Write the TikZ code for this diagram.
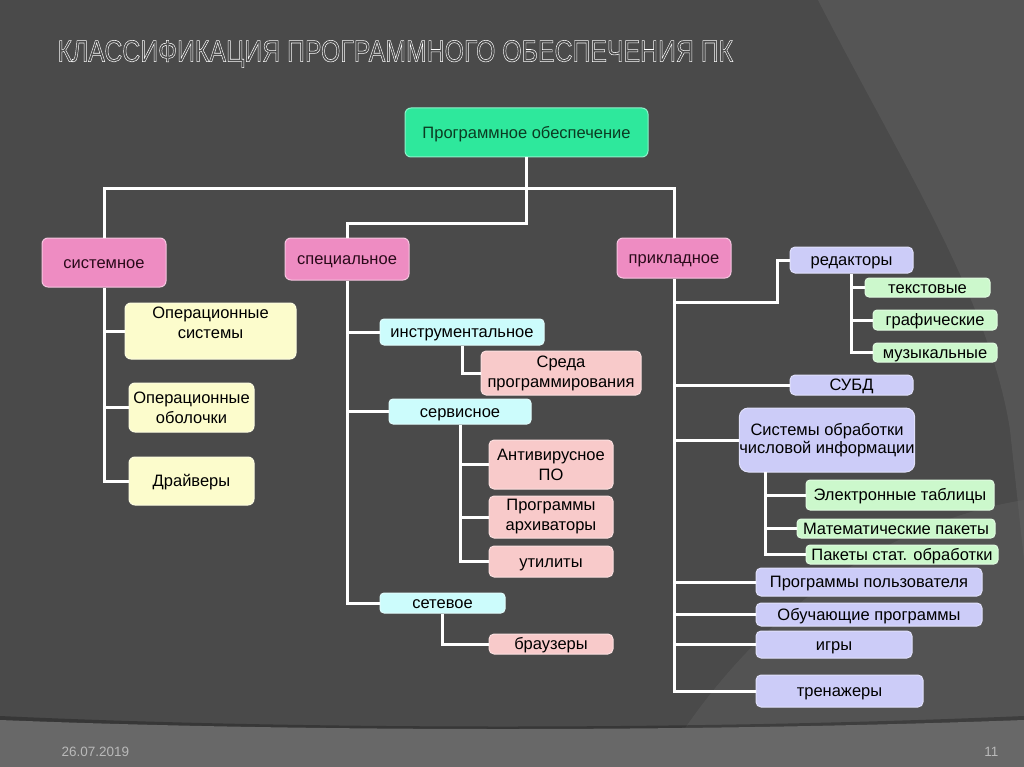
\documentclass[tikz,border=0pt]{standalone}
\usepackage{fontspec}
\setmainfont{Liberation Sans}
\begin{document}
\begin{tikzpicture}[x=1pt,y=-1pt,
  every node/.style={font=\fontsize{16.5}{20}\selectfont},
  box/.style={rounded corners=6pt, line width=1pt, inner sep=0pt, text=black},
  one/.style={text height=14.9pt, text depth=3.5pt},
  two/.style={align=center},
  rootbox/.style={box, fill=green1, draw=green1!55!white, text=rootText},
  lvlbox/.style={box, fill=pink1, draw=pink1!50!white, text=lvlText},
  yelbox/.style={box, fill=yel1, draw=yel1!60!white},
  cyanbox/.style={box, fill=cyan1, draw=cyan1!60!white, rounded corners=4pt},
  salbox/.style={box, fill=sal1, draw=sal1!60!white, rounded corners=5pt},
  lavbox/.style={box, fill=lav1, draw=lav1!60!white, rounded corners=5pt},
  grnbox/.style={box, fill=grn1, draw=grn1!60!white, rounded corners=4pt},
  conn/.style={draw=white, line width=3pt},
  footer/.style={text=gray!55!white, font=\fontsize{13.5}{16}\selectfont}
]
\definecolor{bg}{HTML}{4A4A4A}
\definecolor{bgR}{HTML}{555555}
\definecolor{bgB}{HTML}{686868}
\definecolor{green1}{HTML}{2EE89C}
\definecolor{rootText}{HTML}{0B3B22}
\definecolor{pink1}{HTML}{EE8CC2}
\definecolor{lvlText}{HTML}{2A0A1A}
\definecolor{yel1}{HTML}{FCFCCC}
\definecolor{cyan1}{HTML}{CCFCFC}
\definecolor{sal1}{HTML}{F8CACA}
\definecolor{lav1}{HTML}{CCCCF8}
\definecolor{grn1}{HTML}{CCF8CC}

% background
\useasboundingbox (0,0) rectangle (1024,767);
\fill[bg] (0,0) rectangle (1024,767);
\fill[bgR] (818,0) .. controls (900,160) and (990,300) .. (1010,430) -- (1024,560) -- (1024,0) -- cycle;
\fill[bgR!90!white, opacity=0.35] (660,767) .. controls (760,600) and (900,520) .. (1024,500) -- (1024,767) -- cycle;
\fill[black, opacity=0.25] (0,716) .. controls (300,730) and (700,730) .. (1024,716) -- (1024,726) .. controls (700,736) and (300,736) .. (0,726) -- cycle;
\fill[bgB] (0,720) .. controls (300,732) and (700,732) .. (1024,720) -- (1024,767) -- (0,767) -- cycle;

% title
\node[anchor=west, text=white, font=\fontsize{30.5}{34}\selectfont] (title) at (54,54)
  {\scalebox{0.815}[1]{\special{pdf:literal direct 1 1 1 RG 0.55 w 1 Tr}КЛАССИФИКАЦИЯ ПРОГРАММНОГО ОБЕСПЕЧЕНИЯ ПК\special{pdf:literal direct 0 Tr}}};

% nodes
\node[rootbox, one, minimum width=243, minimum height=49] (top) at (526.5,132.5) {Программное обеспечение};
\node[lvlbox, one, minimum width=124, minimum height=49] (sys) at (104,262.5) {системное};
\node[lvlbox, one, minimum width=124, minimum height=42] (spec) at (347,259) {специальное};
\node[lvlbox, one, minimum width=114, minimum height=40] (app) at (674,258) {прикладное};

\node[yelbox, minimum width=171, minimum height=56] (os) at (210.5,331)
  {\raisebox{7pt}[\height][\depth]{\begin{tabular}{@{}c@{}}Операционные\\системы\end{tabular}}};
\node[yelbox, two, minimum width=125, minimum height=49] (obol) at (191.5,407.5) {Операционные\\оболочки};
\node[yelbox, one, minimum width=125, minimum height=48] (drv) at (191.5,481) {Драйверы};

\node[cyanbox, one, minimum width=164, minimum height=26] (instr) at (462,332) {инструментальное};
\node[salbox, two, minimum width=160, minimum height=44] (sreda) at (561,373) {Среда\\программирования};
\node[cyanbox, one, minimum width=142, minimum height=25] (serv) at (460,411.5) {сервисное};
\node[salbox, two, minimum width=124, minimum height=49] (anti) at (551,464.5) {Антивирусное\\ПО};
\node[salbox, two, minimum width=124, minimum height=42] (arch) at (551,517) {Программы\\архиваторы};
\node[salbox, one, minimum width=124, minimum height=31] (util) at (551,561.5) {утилиты};
\node[cyanbox, one, minimum width=125, minimum height=20] (net) at (442.5,603) {сетевое};
\node[salbox, one, minimum width=124, minimum height=20] (brow) at (551,644) {браузеры};

\node[lavbox, one, minimum width=123, minimum height=26] (red) at (851.5,260) {редакторы};
\node[grnbox, one, minimum width=125, minimum height=19] (txt) at (927.5,287.5) {текстовые};
\node[grnbox, one, minimum width=124, minimum height=20] (graf) at (935,320) {графические};
\node[grnbox, one, minimum width=124, minimum height=19] (mus) at (935,352.5) {музыкальные};
\node[lavbox, one, minimum width=123, minimum height=20] (subd) at (851.5,385) {СУБД};
\node[lavbox, two, minimum width=174, minimum height=64, rounded corners=9pt] (sobr) at (827,440) {Системы обработки\\[-2pt]числовой информации};
\node[grnbox, one, minimum width=188, minimum height=30] (etab) at (900,495) {Электронные таблицы};
\node[grnbox, one, minimum width=198, minimum height=19] (math) at (896,528.5) {Математические пакеты};
\node[grnbox, one, minimum width=192, minimum height=19] (pst) at (902,554.5) {Пакеты стат. обработки};
\node[lavbox, one, minimum width=226, minimum height=28] (pp) at (869,582) {Программы пользователя};
\node[lavbox, one, minimum width=226, minimum height=23] (obuch) at (869,614.5) {Обучающие программы};
\node[lavbox, one, minimum width=156, minimum height=27] (igry) at (834,644.5) {игры};
\node[lavbox, one, minimum width=167, minimum height=32] (tren) at (839.5,691) {тренажеры};

% junction coordinates
\coordinate (jA) at (526.5,189);
\coordinate (jB) at (526.5,224);
\coordinate (rj) at (777,302);
\coordinate (sj) at (765,472);

% connectors
\draw[conn] (top.south) -- (jB) -| (spec.north);
\draw[conn] (sys.north) |- (jA) -| (app.north);

\draw[conn] (sys.south) |- (drv.west);
\draw[conn] (sys.south |- os.west) -- (os.west);
\draw[conn] (sys.south |- obol.west) -- (obol.west);

\draw[conn] (spec.south) |- (net.west);
\draw[conn] (spec.south |- instr.west) -- (instr.west);
\draw[conn] (spec.south |- serv.west) -- (serv.west);
\draw[conn] (instr.south) |- (sreda.west);
\draw[conn] (serv.south) |- (util.west);
\draw[conn] (serv.south |- anti.west) -- (anti.west);
\draw[conn] (serv.south |- arch.west) -- (arch.west);
\draw[conn] (net.south) |- (brow.west);

\draw[conn] (app.south) |- (tren.west);
\draw[conn] (app.south |- rj) -- (rj) |- (red.west);
\draw[conn] (app.south |- subd.west) -- (subd.west);
\draw[conn] (app.south |- sobr.west) -- (sobr.west);
\draw[conn] (app.south |- pp.west) -- (pp.west);
\draw[conn] (app.south |- obuch.west) -- (obuch.west);
\draw[conn] (app.south |- igry.west) -- (igry.west);
\draw[conn] (red.south) |- (mus.west);
\draw[conn] (red.south |- txt.west) -- (txt.west);
\draw[conn] (red.south |- graf.west) -- (graf.west);
\draw[conn] (sj) |- (pst.west);
\draw[conn] (sj |- etab.west) -- (etab.west);
\draw[conn] (sj |- math.west) -- (math.west);

% footer
\node[footer, anchor=west] (date) at (58,752) {26.07.2019};
\node[footer, anchor=east] (page) at (1002,752) {11};
\end{tikzpicture}
\end{document}
